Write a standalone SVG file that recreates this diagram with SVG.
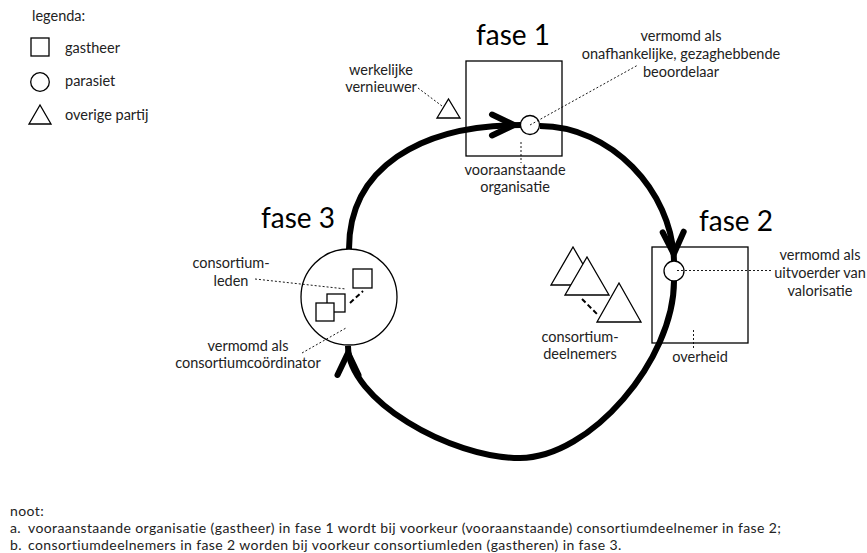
<svg xmlns="http://www.w3.org/2000/svg" width="867" height="553" viewBox="0 0 867 553">
<style>
text{font-family:Lato,"Liberation Sans",sans-serif;font-size:14.5px;fill:#222}
.c{text-anchor:middle}
.t{font-size:28px;fill:#000}
.n{font-size:14px;letter-spacing:0.4px}
.sh{fill:#fff;stroke:#000;stroke-width:1.3}
.dot{stroke:#000;stroke-width:0.9;stroke-dasharray:2,2;fill:none}
.dash{stroke:#000;stroke-width:2;stroke-dasharray:5,3;fill:none}
.arc{fill:none;stroke:#000;stroke-width:6;marker-end:url(#chev)}
</style>
<defs>
<marker id="chev" markerUnits="userSpaceOnUse" viewBox="-32 -15 36 30" markerWidth="36" markerHeight="30" refX="0" refY="0" orient="auto" overflow="visible">
<path d="M-29,-10.5 L-7,0 L-29,10.5" fill="none" stroke="#000" stroke-width="6" stroke-linecap="round" stroke-linejoin="miter"/>
</marker>
</defs>
<rect width="867" height="553" fill="#fff"/>

<g id="legenda">
<text x="32" y="21">legenda:</text>
<rect class="sh" x="31" y="38" width="18" height="18"/>
<text x="65" y="53">gastheer</text>
<circle class="sh" cx="40" cy="82" r="9.3"/>
<text x="65" y="86">parasiet</text>
<polygon class="sh" points="29,124 51,124 40,105"/>
<text x="65" y="120">overige partij</text>
</g>

<g id="fase1-box">
<text class="t c" x="513" y="45">fase 1</text>
<rect class="sh" x="466" y="61" width="96" height="95"/>
</g>
<g id="fase2-box">
<text class="t c" x="736" y="231">fase 2</text>
<rect class="sh" x="652" y="247" width="96" height="96"/>
</g>

<g id="connectors">
<path class="arc" d="M349,249 C349,168 420,125 521,125"/>
<path class="arc" d="M540,126 C610,126 672,190 674,261"/>
<path class="arc" d="M674,281 C674,360 590,458 520,458 C450,458 348,400 348,346"/>
</g>

<g id="fase1-organisatie">
<circle class="sh" cx="530" cy="125" r="9.5"/>
<line class="dot" x1="530" y1="125" x2="638" y2="65"/>
<line class="dot" x1="521" y1="142" x2="521" y2="163"/>
<text class="c" x="515" y="175">vooraanstaande</text>
<text class="c" x="515" y="192">organisatie</text>
<text class="c" x="681" y="41">vermomd als</text>
<text class="c" x="681" y="59">onafhankelijke, gezaghebbende</text>
<text class="c" x="681" y="77">beoordelaar</text>
</g>

<g id="werkelijke-vernieuwer">
<polygon class="sh" points="437,118 460,118 448.5,99"/>
<line class="dot" x1="418" y1="88" x2="442" y2="106"/>
<text class="c" x="381" y="75">werkelijke</text>
<text class="c" x="381" y="92">vernieuwer</text>
</g>

<g id="fase2-overheid">
<circle class="sh" cx="674" cy="271" r="10"/>
<line class="dot" x1="677" y1="270.5" x2="773" y2="270.5"/>
<line class="dot" x1="693.5" y1="330" x2="693.5" y2="348"/>
<text class="c" x="820" y="260">vermomd als</text>
<text class="c" x="820" y="278">uitvoerder van</text>
<text class="c" x="820" y="296">valorisatie</text>
<text class="c" x="700" y="362">overheid</text>
</g>

<g id="consortiumdeelnemers">
<polygon class="sh" points="551,285 573,247 595,285"/>
<polygon class="sh" points="565,295 587,257 609,295"/>
<polygon class="sh" points="597,322 619,283 641,322"/>
<line class="dash" x1="582" y1="299" x2="597" y2="314"/>
<text class="c" x="580" y="342">consortium-</text>
<text class="c" x="580" y="359">deelnemers</text>
</g>

<g id="fase3-consortium">
<text class="t c" x="298" y="228">fase 3</text>
<circle class="sh" cx="349" cy="297" r="48"/>
<rect class="sh" x="353" y="269" width="19" height="19"/>
<rect class="sh" x="327" y="294" width="18" height="18"/>
<rect class="sh" x="316" y="303" width="18" height="18"/>
<line class="dash" x1="350" y1="303" x2="363" y2="291"/>
<line class="dot" x1="255" y1="279" x2="346" y2="289"/>
<line class="dot" x1="302" y1="353" x2="346" y2="328"/>
<text class="c" x="231" y="268">consortium-</text>
<text class="c" x="231" y="286">leden</text>
<text class="c" x="248" y="351">vermomd als</text>
<text class="c" x="248" y="368">consortiumcoördinator</text>
</g>

<g id="noot">
<text class="n" x="10" y="516">noot:</text>
<text class="n" x="10" y="533">a.</text>
<text class="n" x="28" y="533">vooraanstaande organisatie (gastheer) in fase 1 wordt bij voorkeur (vooraanstaande) consortiumdeelnemer in fase 2;</text>
<text class="n" x="10" y="550">b.</text>
<text class="n" x="28" y="550">consortiumdeelnemers in fase 2 worden bij voorkeur consortiumleden (gastheren) in fase 3.</text>
</g>
</svg>
